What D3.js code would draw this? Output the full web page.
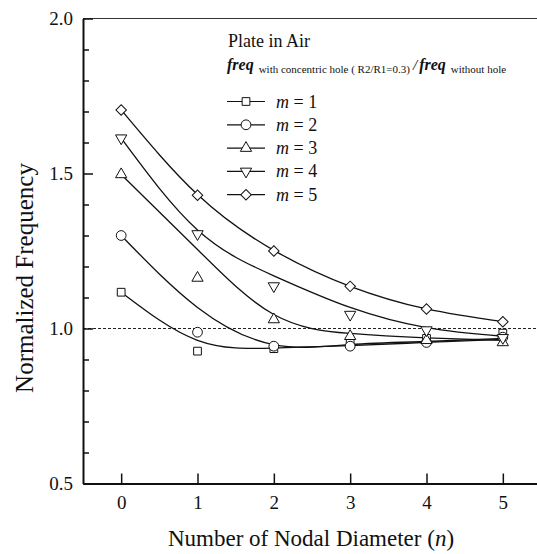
<!DOCTYPE html>
<html>
<head>
<meta charset="utf-8">
<script src="https://cdn.jsdelivr.net/npm/d3@7"></script>
<style>
  body { margin: 0; background: #fff; }
  svg { display: block; }
</style>
</head>
<body>
<div id="chart"></div>
<script>
// nodal diameter n
const nodal = [0, 1, 2, 3, 4, 5];
const mLabels = [1, 2, 3, 4, 5];

// measured ratios (markers)
const m1 = [1.117, 0.927, 0.935, 0.955, 0.968, 0.985];
const m2 = [1.300, 0.988, 0.943, 0.943, 0.955, 0.972];
const m3 = [1.497, 1.163, 1.029, 0.975, 0.962, 0.955];
const m4 = [1.614, 1.305, 1.137, 1.045, 0.995, 0.970];
const m5 = [1.705, 1.430, 1.250, 1.136, 1.063, 1.022];

// fitted curves, read at each n
const fit1 = [1.117, 0.962, 0.937, 0.945, 0.955, 0.965];
const fit2 = [1.300, 1.068, 0.948, 0.948, 0.958, 0.968];
const fit3 = [1.497, 1.255, 1.045, 0.984, 0.970, 0.962];
const fit4 = [1.614, 1.318, 1.170, 1.068, 1.003, 0.975];
const fit5 = [1.705, 1.432, 1.252, 1.136, 1.063, 1.022];

const yMajor = [0.5, 1.0, 1.5, 2.0];
const yMinor = [0.6, 0.7, 0.8, 0.9, 1.1, 1.2, 1.3, 1.4, 1.6, 1.7, 1.8, 1.9];

const series = [m1, m2, m3, m4, m5];
const fits = [fit1, fit2, fit3, fit4, fit5];

const FONT = "'Times New Roman', 'Liberation Serif', serif";
const W = 537, H = 554;
const x = d3.scaleLinear().domain([-0.5, 5.5]).range([83, 541]);
const y = d3.scaleLinear().domain([0.5, 2.0]).range([483.5, 18.5]);

const svg = d3.select("#chart").append("svg")
  .attr("width", W).attr("height", H)
  .attr("font-family", FONT);

// marker shapes: square, circle, up triangle, down triangle, diamond
const shapes = [
  { type: d3.symbolSquare, size: 60, rot: 0 },
  { type: d3.symbolCircle, size: 75, rot: 0 },
  { type: d3.symbolTriangle, size: 55, rot: 0 },
  { type: d3.symbolTriangle, size: 55, rot: 180 },
  { type: d3.symbolSquare, size: 55, rot: 45 },
];

// frame top
svg.append("line")
  .attr("x1", x(-0.5)).attr("x2", W)
  .attr("y1", y(2.0)).attr("y2", y(2.0))
  .attr("stroke", "#333").attr("stroke-width", 1.2);

// reference line at 1.0
svg.append("line")
  .attr("x1", x(-0.5)).attr("x2", W)
  .attr("y1", y(1.0)).attr("y2", y(1.0))
  .attr("stroke", "#222").attr("stroke-width", 1)
  .attr("stroke-dasharray", "3,2");

// y axis
const yAxis = svg.append("g")
  .attr("transform", "translate(" + x(-0.5) + ",0)")
  .call(d3.axisLeft(y).tickValues(yMajor).tickFormat(d3.format(".1f"))
    .tickSizeInner(-10).tickSizeOuter(0).tickPadding(10));
svg.append("g")
  .attr("transform", "translate(" + x(-0.5) + ",0)")
  .call(d3.axisLeft(y).tickValues(yMinor).tickFormat("")
    .tickSizeInner(-6).tickSizeOuter(0))
  .call(g => g.select(".domain").remove())
  .selectAll("line").attr("stroke", "#111").attr("stroke-width", 1.5);

// x axis
const xAxis = svg.append("g")
  .attr("transform", "translate(0," + y(0.5) + ")")
  .call(d3.axisBottom(x).tickValues(nodal).tickFormat(d3.format("d"))
    .tickSizeInner(-10).tickSizeOuter(0).tickPadding(12));

[yAxis, xAxis].forEach(g => {
  g.attr("font-family", FONT).attr("font-size", 19);
  g.selectAll("text").attr("fill", "#111");
  g.selectAll("line").attr("stroke", "#111").attr("stroke-width", 1.5);
  g.select(".domain").attr("stroke", "#111").attr("stroke-width", 2);
});

// fitted curves
const line = d3.line()
  .x((d, i) => x(nodal[i]))
  .y(d => y(d))
  .curve(d3.curveNatural);

svg.selectAll(".fit")
  .data(fits)
  .enter()
  .append("path")
  .attr("class", "fit")
  .attr("d", d => line(d))
  .attr("fill", "none")
  .attr("stroke", "#111")
  .attr("stroke-width", 1.3);

// markers
series.forEach((vals, si) => {
  const s = shapes[si];
  svg.selectAll(".mk" + si)
    .data(vals)
    .enter()
    .append("path")
    .attr("class", "mk" + si)
    .attr("d", d3.symbol().type(s.type).size(s.size))
    .attr("transform", (d, i) => "translate(" + x(nodal[i]) + "," + y(d) + ") rotate(" + s.rot + ")")
    .attr("fill", "#fff")
    .attr("stroke", "#111")
    .attr("stroke-width", 1);
});

// legend
const lg = svg.append("g").attr("fill", "#111");
lg.append("text").attr("x", 228).attr("y", 47)
  .attr("font-size", 18).text("Plate in Air");

const t2 = lg.append("text").attr("x", 227).attr("y", 70);
t2.append("tspan").attr("font-size", 16).attr("font-weight", "bold").attr("font-style", "italic").text("freq");
t2.append("tspan").attr("dx", 5).attr("dy", 3).attr("font-size", 11).text("with concentric hole ( R2/R1=0.3)");
t2.append("tspan").attr("dx", 3).attr("dy", -3).attr("font-size", 15).attr("font-style", "italic").text("/");
t2.append("tspan").attr("dx", 2).attr("font-size", 16).attr("font-weight", "bold").attr("font-style", "italic").text("freq");
t2.append("tspan").attr("dx", 5).attr("dy", 3).attr("font-size", 11).text("without hole");

mLabels.forEach((m, i) => {
  const ry = 101.5 + i * 23.3;
  const s = shapes[i];
  lg.append("line").attr("x1", 227).attr("x2", 265).attr("y1", ry).attr("y2", ry)
    .attr("stroke", "#111").attr("stroke-width", 1.2);
  lg.append("path")
    .attr("d", d3.symbol().type(s.type).size(s.size))
    .attr("transform", "translate(246," + ry + ") rotate(" + s.rot + ")")
    .attr("fill", "#fff").attr("stroke", "#111").attr("stroke-width", 1);
  const tx = lg.append("text").attr("x", 276).attr("y", ry + 6).attr("font-size", 18);
  tx.append("tspan").attr("font-style", "italic").text("m");
  tx.append("tspan").text(" = " + m);
});

// axis titles
const xt = svg.append("text")
  .attr("x", 311).attr("y", 546)
  .attr("text-anchor", "middle")
  .attr("font-size", 23)
  .attr("fill", "#111");
xt.append("tspan").text("Number of Nodal Diameter (");
xt.append("tspan").attr("font-style", "italic").text("n");
xt.append("tspan").text(")");

svg.append("text")
  .attr("transform", "translate(33,278) rotate(-90)")
  .attr("text-anchor", "middle")
  .attr("font-size", 25)
  .attr("fill", "#111")
  .text("Normalized Frequency");
</script>
</body>
</html>
